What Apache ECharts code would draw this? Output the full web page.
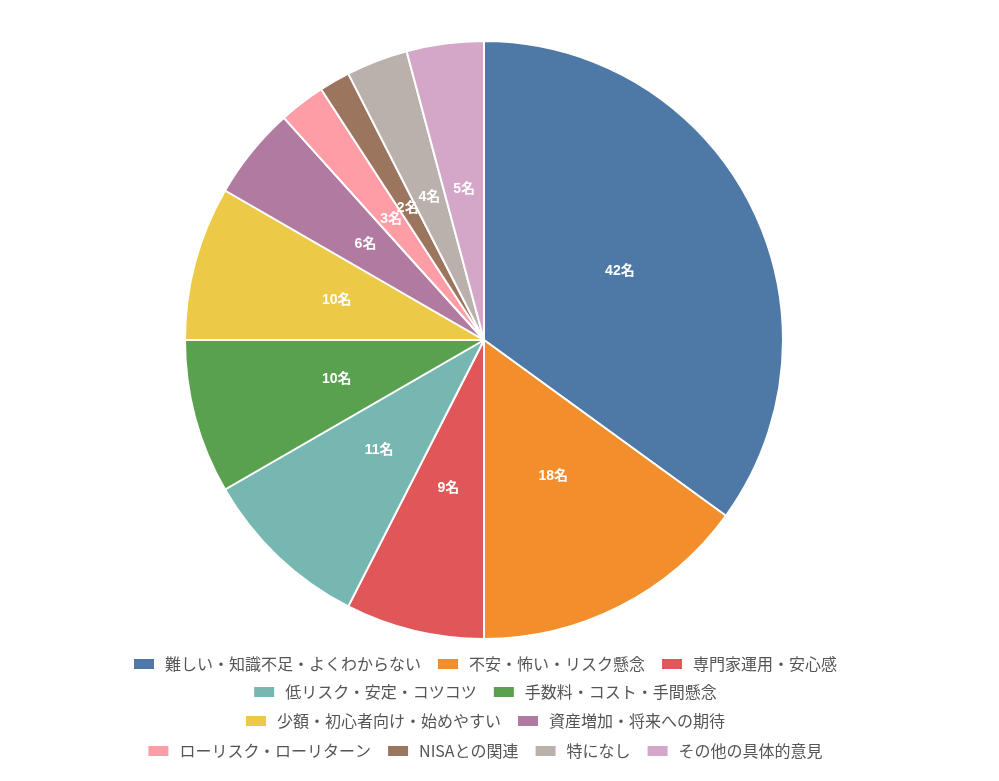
<!DOCTYPE html>
<html><head><meta charset="utf-8">
<script src="https://cdn.jsdelivr.net/npm/echarts@6/dist/echarts.min.js"></script>
<style>html,body{margin:0;padding:0;background:#fff}#c{width:969px;height:781px}</style>
</head><body><div id="c"></div>
<script>
const categories = ['難しい・知識不足・よくわからない','不安・怖い・リスク懸念','専門家運用・安心感','低リスク・安定・コツコツ','手数料・コスト・手間懸念','少額・初心者向け・始めやすい','資産増加・将来への期待','ローリスク・ローリターン','NISAとの関連','特になし','その他の具体的意見'];
const values = [42,18,9,11,10,10,6,3,2,4,5];
const colors = ['#4e79a7','#f28e2b','#e15759','#76b7b2','#59a14f','#edc948','#b07aa1','#ff9da7','#9c755f','#bab0ac','#d4a6c8'];
const legendRows = [[0,1,2],[3,4],[5,6],[7,8,9,10]];
const rowTops = [651, 679, 708, 738];
const chart = echarts.init(document.getElementById('c'));
chart.setOption({
  animation:false,
  color: colors,
  legend: legendRows.map((r,k)=>({
    top: rowTops[k], left: 'center', icon: 'rect',
    itemWidth: 22, itemHeight: 12, itemGap: 15,
    textStyle: {fontSize: 16, color: '#555', fontFamily: 'Noto Sans CJK JP', padding:[0,0,0,5]},
    data: r.map(i=>categories[i])
  })),
  series: [{
    type: 'pie',
    center: [484, 340], radius: 299,
    startAngle: 90, clockwise: true,
    avoidLabelOverlap: false,
    minShowLabelAngle: 0,
    itemStyle: {borderColor: '#fff', borderWidth: 2},
    label: {show: true, position: 'inside', formatter: '{c}名', color: '#fff', fontWeight: 'bold', fontSize: 14, fontFamily: 'Liberation Sans, Noto Sans CJK JP'},
    labelLayout: {hideOverlap: false},
    labelLine: {show:false},
    emphasis: {disabled: true},
    data: categories.map((n,i)=>({name:n, value:values[i]}))
  }]
});
</script></body></html>
